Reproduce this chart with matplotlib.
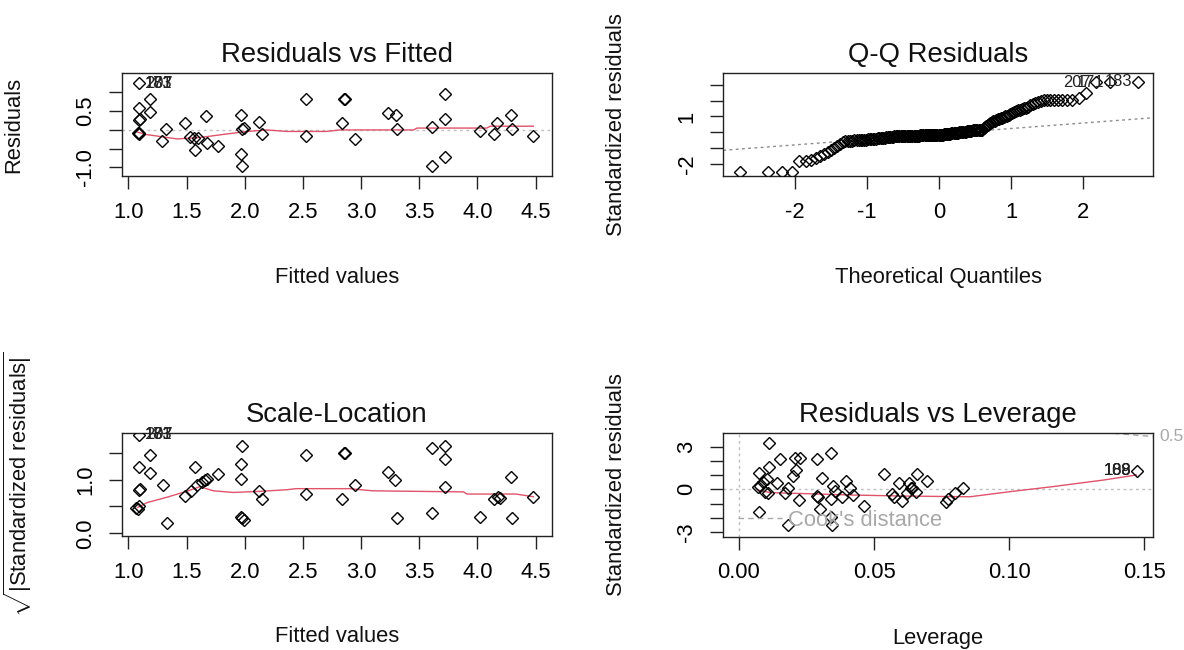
import numpy as np
import matplotlib
matplotlib.use("Agg")
import matplotlib.pyplot as plt
from matplotlib.lines import Line2D
from statistics import NormalDist

plt.rcParams['font.family'] = ['Liberation Sans', 'DejaVu Sans']
plt.rcParams['mathtext.fontset'] = 'custom'
plt.rcParams['mathtext.rm'] = 'Liberation Sans'
plt.rcParams['mathtext.it'] = 'Liberation Sans:italic'

# ---- data ----
# residuals vs fitted
fit_x = [1.095, 1.095, 1.095, 1.10, 1.08, 1.09, 1.095, 1.19, 1.19, 1.29, 1.32, 1.49,
         1.53, 1.56, 1.60, 1.57, 1.67, 1.68, 1.77, 1.97, 1.98, 1.99, 1.97, 1.98,
         2.12, 2.15, 2.53, 2.53, 2.85, 2.86, 2.84, 2.95, 3.23, 3.30, 3.31, 3.61,
         3.61, 3.72, 3.72, 3.72, 4.02, 4.14, 4.17, 4.29, 4.30, 4.48]
fit_res = [1.25, 0.59, 0.27, 0.29, -0.09, -0.07, -0.10, 0.82, 0.49, -0.30, 0.03, 0.18,
           -0.20, -0.21, -0.22, -0.54, 0.37, -0.34, -0.44, 0.41, 0.03, 0.05, -0.63, -0.96,
           0.22, -0.11, 0.82, -0.16, 0.82, 0.83, 0.18, -0.25, 0.46, 0.41, 0.03, 0.09,
           -0.96, 0.96, 0.30, -0.71, -0.04, -0.11, 0.18, 0.41, 0.03, -0.16]
fit_smooth_x = [1.08, 1.16, 1.42, 1.62, 1.84, 2.02, 2.19, 2.36, 2.70, 2.82, 3.45, 3.48,
                4.08, 4.11, 4.48]
fit_smooth_y = [-0.06, -0.125, -0.24, -0.20, -0.11, -0.04, 0.0, -0.04, -0.04, 0.0, 0.0,
                0.05, 0.05, 0.10, 0.10]
top_ids = ["207", "171", "183"]
top_fit = 1.095
top_res = 1.25

# normal Q-Q, sorted standardized residuals
qq_std = ([-2.5] * 4 + [-1.81] * 2 +
          [-1.75, -1.62, -1.5, -1.38, -1.25, -1.12, -1.0, -0.88, -0.75, -0.62] +
          [-0.56] * 4 + [-0.52] * 4 + [-0.48] * 3 +
          [-0.44] * 6 + [-0.38] * 6 + [-0.32] * 6 +
          [-0.27] * 11 + [-0.23] * 11 + [-0.19] * 11 + [-0.16] * 11 +
          [-0.10] * 7 + [-0.03] * 7 + [0.04] * 7 +
          [0.08] * 5 + [0.12] * 5 + [0.16] * 4 +
          [0.25, 0.32, 0.40, 0.47, 0.53, 0.60] +
          [0.66, 0.70, 0.74, 0.78, 0.82, 0.86, 0.90, 0.93, 0.96, 1.00, 1.03] +
          [1.10, 1.15, 1.20, 1.27, 1.33, 1.38, 1.43, 1.48, 1.52, 1.56] +
          [1.62, 1.70, 1.78, 1.86, 1.93, 2.00] +
          [2.05] * 8 + [2.20, 2.52, 3.17, 3.18, 3.20])
qq_line_int = -0.11
qq_line_slope = 0.347

# scale-location
sl_x = [1.095, 1.19, 1.095, 1.19, 1.095, 1.10, 1.07, 1.08, 1.09, 1.30, 1.33, 1.49,
        1.57, 1.54, 1.59, 1.63, 1.66, 1.68, 1.77, 1.98, 1.97, 1.97, 1.97, 1.98,
        1.99, 2.12, 2.15, 2.53, 2.53, 2.85, 2.86, 2.84, 2.95, 3.23, 3.29, 3.31,
        3.61, 3.61, 3.72, 3.72, 3.72, 4.02, 4.14, 4.18, 4.19, 4.29, 4.30, 4.48]
sl_y = [1.83, 1.46, 1.23, 1.13, 0.81, 0.82, 0.47, 0.45, 0.50, 0.90, 0.19, 0.70,
        1.23, 0.78, 0.90, 0.96, 0.99, 1.01, 1.10, 1.63, 1.29, 1.01, 0.31, 0.28,
        0.25, 0.78, 0.64, 1.46, 0.74, 1.49, 1.50, 0.64, 0.90, 1.14, 0.99, 0.29,
        1.58, 0.38, 1.63, 1.38, 0.87, 0.31, 0.64, 0.67, 0.65, 1.04, 0.29, 0.68]
sl_smooth_x = [1.08, 1.16, 1.33, 1.50, 1.62, 1.67, 1.73, 1.90, 2.13, 2.36, 2.44, 2.90,
               3.10, 3.88, 3.91, 4.33, 4.48]
sl_smooth_y = [0.48, 0.57, 0.67, 0.78, 0.87, 0.83, 0.79, 0.76, 0.78, 0.81, 0.83, 0.83,
               0.79, 0.77, 0.73, 0.73, 0.68]

# residuals vs leverage
lev = [0.0112, 0.0075, 0.0112, 0.0152, 0.0207, 0.0226, 0.0287, 0.0340, 0.0211, 0.0201,
       0.0102, 0.0072, 0.0078, 0.0090, 0.0139, 0.0096, 0.0109, 0.0183, 0.0170, 0.0222,
       0.0075, 0.0183, 0.0306, 0.0347, 0.0355, 0.0287, 0.0294, 0.0339, 0.0300, 0.0340,
       0.0343, 0.0380, 0.0396, 0.0411, 0.0423, 0.0463, 0.0537, 0.0565, 0.0574, 0.0592,
       0.0605, 0.0620, 0.0630, 0.0635, 0.0640, 0.0655, 0.0658, 0.0695, 0.0766, 0.0772,
       0.0800, 0.0830, 0.1472]
lev_res = [3.28, 1.12, 1.55, 2.13, 2.18, 2.18, 2.13, 2.53, 1.36, 0.94,
           0.70, 0.19, 0.22, 0.54, 0.47, -0.16, -0.28, 0.07, -0.23, -0.75,
           -1.62, -2.51, 0.77, 0.23, -0.09, -0.47, -0.56, -0.68, -1.41, -1.92,
           -2.51, -0.56, 0.59, 0.07, -0.40, -1.17, 1.08, -0.33, -0.56, 0.47,
           -0.80, -0.23, 0.47, 0.07, 0.10, -0.16, 1.08, 0.61, -0.87, -0.70,
           -0.23, 0.07, 1.31]
lev_smooth_x = [0.0072, 0.0115, 0.030, 0.042, 0.061, 0.0855, 0.1003, 0.116, 0.135, 0.147]
lev_smooth_y = [-0.05, -0.23, -0.33, -0.40, -0.47, -0.52, -0.16, 0.19, 0.66, 1.01]
lev_ids = ["189", "188", "108"]
n_coef = 5

# ---- style ----
FS = 15.8
RED = "#DF536B"
GREY = "#BEBEBE"
DOT = (0, (2, 2.5))

fig = plt.figure(figsize=(11.84, 6.5), dpi=100)


def setup(ax, title, xlabel, ylabel, xt, xtl, yt, ytl, xlim, ylim):
    ax.set_xlim(*xlim)
    ax.set_ylim(*ylim)
    ax.set_xticks(xt)
    ax.set_xticklabels(xtl)
    ax.set_yticks(yt)
    ax.set_yticklabels(ytl, rotation=90, va="center")
    ax.tick_params(direction="out", length=9.5, width=1, labelsize=FS, color="#222222")
    ax.tick_params(axis="x", pad=9)
    ax.tick_params(axis="y", pad=9)
    for s in ax.spines.values():
        s.set_linewidth(1)
        s.set_color("#222222")
    ax.set_title(title, fontsize=19.8, pad=8, color="#111111")
    ax.set_xlabel(xlabel, fontsize=FS, color="#111111")
    ax.set_ylabel(ylabel, fontsize=FS, color="#111111")


def pts(ax, x, y):
    ax.plot(x, y, linestyle="none", marker="D", markersize=6.2, markerfacecolor="none",
            markeredgecolor="black", markeredgewidth=1.0, zorder=3)


# panel 1: residuals vs fitted
ax1 = fig.add_axes([0.1028, 0.7292, 0.3634, 0.1585])
ax1.axhline(0, color=GREY, lw=1, linestyle=DOT, zorder=1)
pts(ax1, fit_x, fit_res)
ax1.plot(fit_smooth_x, fit_smooth_y, color=RED, lw=1, zorder=2)
for lab in top_ids:
    ax1.annotate(lab, (top_fit, top_res), xytext=(4, 0), textcoords="offset points",
                 ha="left", va="center", fontsize=11.9, color="#222222")
setup(ax1, "Residuals vs Fitted", "Fitted values", "Residuals",
      [1.0, 1.5, 2.0, 2.5, 3.0, 3.5, 4.0, 4.5],
      ["1.0", "1.5", "2.0", "2.5", "3.0", "3.5", "4.0", "4.5"],
      [-1.0, -0.5, 0.0, 0.5, 1.0], ["-1.0", "", "", "0.5", ""],
      (0.943, 4.64), (-1.23, 1.52))

# panel 2: Q-Q
n = len(qq_std)
nd = NormalDist()
theo = [nd.inv_cdf((i + 0.5) / n) for i in range(n)]
ax2 = fig.add_axes([0.6109, 0.7292, 0.3632, 0.1585])
ax2.axline((0, qq_line_int), slope=qq_line_slope, color="#8c8c8c", lw=1, linestyle=DOT,
           zorder=1)
pts(ax2, theo, qq_std)
for i, lab in enumerate(top_ids):
    k = n - 3 + i
    ax2.annotate(lab, (theo[k], qq_std[k]), xytext=(-4, 0), textcoords="offset points",
                 ha="right", va="center", fontsize=11.9, color="#222222")
setup(ax2, "Q-Q Residuals", "Theoretical Quantiles", "Standardized residuals",
      [-2, -1, 0, 1, 2], ["-2", "-1", "0", "1", "2"],
      [-2, -1, 0, 1, 2, 3], ["-2", "", "", "1", "", ""],
      (-2.99, 2.97), (-2.78, 3.76))

# panel 3: scale-location
ax3 = fig.add_axes([0.1028, 0.1754, 0.3634, 0.158])
pts(ax3, sl_x, sl_y)
ax3.plot(sl_smooth_x, sl_smooth_y, color=RED, lw=1, zorder=2)
for lab in top_ids:
    ax3.annotate(lab, (top_fit, max(sl_y)), xytext=(4, 0), textcoords="offset points",
                 ha="left", va="center", fontsize=11.9, color="#222222")
setup(ax3, "Scale-Location", "Fitted values",
      r"$\sqrt{|\mathrm{Standardized\ residuals}|}$",
      [1.0, 1.5, 2.0, 2.5, 3.0, 3.5, 4.0, 4.5],
      ["1.0", "1.5", "2.0", "2.5", "3.0", "3.5", "4.0", "4.5"],
      [0.0, 0.5, 1.0, 1.5], ["0.0", "", "1.0", ""],
      (0.943, 4.64), (-0.05, 1.86))

# panel 4: residuals vs leverage
ax4 = fig.add_axes([0.6104, 0.1743, 0.3637, 0.159])
ax4.axhline(0, color=GREY, lw=1, linestyle=DOT, zorder=1)
ax4.axvline(0, color=GREY, lw=1, linestyle=DOT, zorder=1)
hh = np.linspace(0.01, 0.1533, 200)
cook = np.sqrt(0.5 * n_coef * (1 - hh) / hh)
ax4.plot(hh, cook, color="#a8a8a8", lw=1, linestyle=(0, (4, 3)), zorder=1)
ax4.plot(hh, -cook, color="#a8a8a8", lw=1, linestyle=(0, (4, 3)), zorder=1)
pts(ax4, lev, lev_res)
ax4.plot(lev_smooth_x, lev_smooth_y, color=RED, lw=1, zorder=2)
for lab in lev_ids:
    ax4.annotate(lab, (lev[-1], lev_res[-1]), xytext=(-4, 0), textcoords="offset points",
                 ha="right", va="center", fontsize=11.9, color="#222222")
ax4.annotate("0.5", (1.0, cook[-1]), xycoords=("axes fraction", "data"),
             xytext=(4, 0), textcoords="offset points", ha="left", va="center",
             fontsize=12.5, color="#a8a8a8", annotation_clip=False)
leg = ax4.legend([Line2D([], [], color="#a8a8a8", lw=1, linestyle=(0, (4, 3)))],
                 ["Cook's distance"], loc="center left", bbox_to_anchor=(0.035, 0.16),
                 frameon=False, fontsize=FS, handlelength=2.0, handletextpad=0.3,
                 borderpad=0, borderaxespad=0)
for t in leg.get_texts():
    t.set_color("#a8a8a8")
setup(ax4, "Residuals vs Leverage", "Leverage", "Standardized residuals",
      [0.0, 0.05, 0.10, 0.15], ["0.00", "0.05", "0.10", "0.15"],
      [-3, -2, -1, 0, 1, 2, 3], ["-3", "", "", "0", "", "", "3"],
      (-0.006, 0.1533), (-3.33, 3.94))

for ax in (ax1, ax2, ax3, ax4):
    ax.xaxis.set_label_coords(0.5, -0.88)
for ax, xc in ((ax1, -0.227), (ax2, -0.224), (ax3, -0.205), (ax4, -0.222)):
    ax.yaxis.set_label_coords(xc, 0.5)

fig.savefig("out.png", dpi=100)
